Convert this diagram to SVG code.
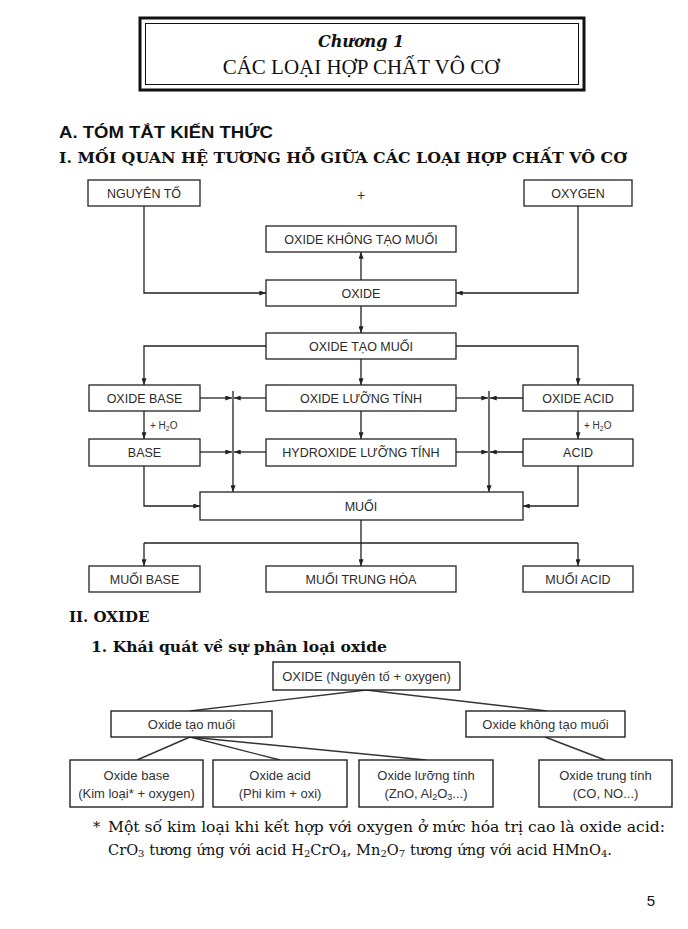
<svg xmlns="http://www.w3.org/2000/svg" width="688" height="929" viewBox="0 0 688 929">
<defs>
<marker id="ah" viewBox="0 0 8 6" refX="8" refY="3" markerWidth="7" markerHeight="5" orient="auto" markerUnits="userSpaceOnUse">
<path d="M0,0 L8,3 L0,6 Z" fill="#222"/>
</marker>
</defs>
<style>
.bx{fill:#fff;stroke:#222;stroke-width:1.3}
.bx2{fill:#fff;stroke:#222;stroke-width:1.4}
.cn{fill:none;stroke:#222;stroke-width:1.3}
.ar{fill:none;stroke:#222;stroke-width:1.3;marker-end:url(#ah)}
.tl{fill:none;stroke:#333;stroke-width:1.4}
.ft{font-family:"Liberation Sans",Arial,sans-serif;font-size:12.5px;fill:#2a2a2a;text-anchor:middle}
.ft2{font-family:"Liberation Sans",Arial,sans-serif;font-size:13px;fill:#333;text-anchor:middle}
.sm{font-family:"Liberation Sans",Arial,sans-serif;font-size:10px;fill:#333}
.hs{font-family:"DejaVu Serif","Liberation Serif",serif;font-weight:bold;fill:#111}
.fn{font-family:"DejaVu Serif","Liberation Serif",serif;font-size:14.5px;fill:#111}
</style>
<rect width="688" height="929" fill="#fff"/>

<g id="title">
<rect x="140" y="18" width="444" height="72" fill="none" stroke="#111" stroke-width="3"/>
<rect x="145.5" y="23.5" width="433" height="61" fill="none" stroke="#111" stroke-width="1"/>
<text x="361" y="47" font-family="DejaVu Serif,Liberation Serif,serif" font-weight="bold" font-style="italic" font-size="16" text-anchor="middle" fill="#111">Chương 1</text>
<text x="361" y="74" font-family="Liberation Serif,Times New Roman,serif" font-size="21" text-anchor="middle" fill="#111">CÁC LOẠI HỢP CHẤT VÔ CƠ</text>
</g>

<g id="headings">
<text x="59" y="138" font-family="Liberation Sans,Arial,sans-serif" font-weight="bold" font-size="17" fill="#111" textLength="214" lengthAdjust="spacingAndGlyphs">A. TÓM TẮT KIẾN THỨC</text>
<text x="59" y="163" class="hs" font-size="15" textLength="568" lengthAdjust="spacingAndGlyphs">I. MỐI QUAN HỆ TƯƠNG HỖ GIỮA CÁC LOẠI HỢP CHẤT VÔ CƠ</text>
<text x="69" y="622" class="hs" font-size="15">II. OXIDE</text>
<text x="91" y="652" class="hs" font-size="15" textLength="296" lengthAdjust="spacingAndGlyphs">1. Khái quát về sự phân loại oxide</text>
</g>

<g id="connectors">
<path class="ar" d="M144,206 V293 H266"/>
<path class="ar" d="M578,206 V293 H456"/>
<path class="ar" d="M361,280 V252"/>
<path class="ar" d="M361,306 V333"/>
<path class="ar" d="M266,346 H144 V385"/>
<path class="ar" d="M456,346 H578 V385"/>
<path class="ar" d="M361,359 V385"/>
<path class="ar" d="M144,411 V439"/>
<path class="ar" d="M578,411 V439"/>
<path class="ar" d="M361,411 V439"/>
<path class="ar" d="M200,398 H232"/>
<path class="ar" d="M266,398 H234"/>
<path class="ar" d="M200,452 H232"/>
<path class="ar" d="M266,452 H234"/>
<path class="ar" d="M233,391 V492"/>
<path class="ar" d="M456,398 H488"/>
<path class="ar" d="M523,398 H490"/>
<path class="ar" d="M456,452 H488"/>
<path class="ar" d="M523,452 H490"/>
<path class="ar" d="M489,391 V492"/>
<path class="ar" d="M144,466 V506 H200"/>
<path class="ar" d="M578,466 V506 H523"/>
<path class="ar" d="M361,520 V566"/>
<path class="cn" d="M144,543 H578"/>
<path class="ar" d="M144,543 V566"/>
<path class="ar" d="M578,543 V566"/>
<path class="tl" d="M366,690 L190,711 M366,690 L547,711 M190,737 L137,760 M190,737 L280,760 M190,737 L426,760 M545,737 L605,760"/>
</g>

<text x="361" y="200" font-family="Liberation Sans,Arial,sans-serif" font-size="14" fill="#333" text-anchor="middle">+</text>
<text x="150" y="429" class="sm">+ H<tspan font-size="7" dy="2">2</tspan><tspan dy="-2">O</tspan></text>
<text x="584" y="429" class="sm">+ H<tspan font-size="7" dy="2">2</tspan><tspan dy="-2">O</tspan></text>

<g id="n-nguyento"><rect class="bx" x="88" y="180" width="112" height="26"/><text class="ft" x="144" y="197.5">NGUYÊN TỐ</text></g>
<g id="n-oxygen"><rect class="bx" x="524" y="180" width="108" height="26"/><text class="ft" x="578" y="197.5">OXYGEN</text></g>
<g id="n-oktm"><rect class="bx" x="266" y="226" width="190" height="26"/><text class="ft" x="361" y="243.5">OXIDE KHÔNG TẠO MUỐI</text></g>
<g id="n-oxide"><rect class="bx" x="266" y="280" width="190" height="26"/><text class="ft" x="361" y="297.5">OXIDE</text></g>
<g id="n-otm"><rect class="bx" x="266" y="333" width="190" height="26"/><text class="ft" x="361" y="350.5">OXIDE TẠO MUỐI</text></g>
<g id="n-ob"><rect class="bx" x="89" y="385" width="111" height="26"/><text class="ft" x="144.5" y="402.5">OXIDE BASE</text></g>
<g id="n-olt"><rect class="bx" x="266" y="385" width="190" height="26"/><text class="ft" x="361" y="402.5">OXIDE LƯỠNG TÍNH</text></g>
<g id="n-oa"><rect class="bx" x="523" y="385" width="110" height="26"/><text class="ft" x="578" y="402.5">OXIDE ACID</text></g>
<g id="n-base"><rect class="bx" x="89" y="439" width="111" height="27"/><text class="ft" x="144.5" y="457">BASE</text></g>
<g id="n-hlt"><rect class="bx" x="266" y="439" width="190" height="27"/><text class="ft" x="361" y="457">HYDROXIDE LƯỠNG TÍNH</text></g>
<g id="n-acid"><rect class="bx" x="523" y="439" width="110" height="27"/><text class="ft" x="578" y="457">ACID</text></g>
<g id="n-muoi"><rect class="bx" x="200" y="492" width="323" height="28"/><text class="ft" x="361" y="510.5">MUỐI</text></g>
<g id="n-mb"><rect class="bx" x="89" y="566" width="111" height="26"/><text class="ft" x="144.5" y="583.5">MUỐI BASE</text></g>
<g id="n-mth"><rect class="bx" x="266" y="566" width="190" height="26"/><text class="ft" x="361" y="583.5">MUỐI TRUNG HÒA</text></g>
<g id="n-ma"><rect class="bx" x="523" y="566" width="110" height="26"/><text class="ft" x="578" y="583.5">MUỐI ACID</text></g>

<g id="t-oxide"><rect class="bx2" x="273" y="662" width="187" height="28"/><text class="ft2" x="366.5" y="680.5">OXIDE (Nguyên tố + oxygen)</text></g>
<g id="t-otm"><rect class="bx2" x="111" y="711" width="161" height="26"/><text class="ft2" x="191.5" y="728.5">Oxide tạo muối</text></g>
<g id="t-oktm"><rect class="bx2" x="466" y="711" width="159" height="26"/><text class="ft2" x="545.5" y="728.5">Oxide không tạo muối</text></g>
<g id="t-ob"><rect class="bx2" x="70" y="760" width="133" height="47"/><text class="ft2" x="136.5" y="780">Oxide base</text><text class="ft2" x="136.5" y="798">(Kim loại* + oxygen)</text></g>
<g id="t-oa"><rect class="bx2" x="213" y="760" width="134" height="47"/><text class="ft2" x="280" y="780">Oxide acid</text><text class="ft2" x="280" y="798">(Phi kim + oxi)</text></g>
<g id="t-olt"><rect class="bx2" x="359" y="760" width="134" height="47"/><text class="ft2" x="426" y="780">Oxide lưỡng tính</text><text class="ft2" x="426" y="798">(ZnO, Al<tspan font-size="9" dy="2">2</tspan><tspan dy="-2">O</tspan><tspan font-size="9" dy="2">3</tspan><tspan dy="-2">...)</tspan></text></g>
<g id="t-ott"><rect class="bx2" x="539" y="760" width="133" height="47"/><text class="ft2" x="605.5" y="780">Oxide trung tính</text><text class="ft2" x="605.5" y="798">(CO, NO...)</text></g>

<g id="footnote">
<text x="93" y="832" class="fn">*</text>
<text x="108" y="832" class="fn" textLength="557" lengthAdjust="spacingAndGlyphs">Một số kim loại khi kết hợp với oxygen ở mức hóa trị cao là oxide acid:</text>
<text x="108" y="855" class="fn" textLength="504" lengthAdjust="spacingAndGlyphs">CrO<tspan font-size="10" dy="2">3</tspan><tspan dy="-2"> tương ứng với acid H</tspan><tspan font-size="10" dy="2">2</tspan><tspan dy="-2">CrO</tspan><tspan font-size="10" dy="2">4</tspan><tspan dy="-2">, Mn</tspan><tspan font-size="10" dy="2">2</tspan><tspan dy="-2">O</tspan><tspan font-size="10" dy="2">7</tspan><tspan dy="-2"> tương ứng với acid HMnO</tspan><tspan font-size="10" dy="2">4</tspan><tspan dy="-2">.</tspan></text>
<text x="655" y="906" font-family="Liberation Sans,Arial,sans-serif" font-size="15" fill="#111" text-anchor="end">5</text>
</g>
</svg>
